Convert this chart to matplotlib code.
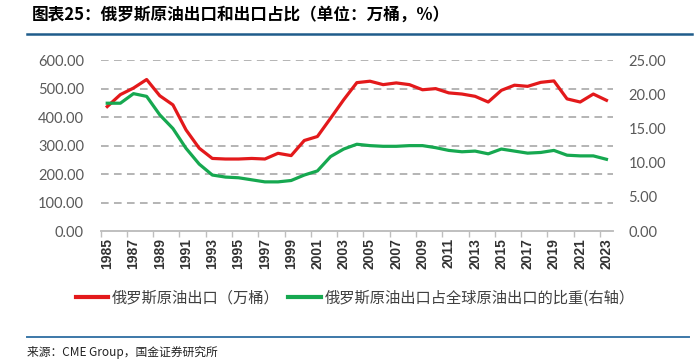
import numpy as np
import matplotlib
matplotlib.use("Agg")
import matplotlib.pyplot as plt
from matplotlib.lines import Line2D

plt.rcParams["font.family"] = ["Noto Sans CJK SC", "DejaVu Sans"]

# --------------------------------------------------------------------------- #
# Data
# --------------------------------------------------------------------------- #
years = list(range(1985, 2024))

# 俄罗斯原油出口（万桶）, left axis
exports = [437, 479, 502, 532, 475, 443, 355, 291, 255, 253,
           253, 255, 253, 273, 265, 318, 332, 396, 461, 521,
           526, 514, 520, 514, 496, 500, 485, 481, 473, 453,
           494, 512, 508, 522, 527, 464, 453, 481, 459]

# 俄罗斯原油出口占全球原油出口的比重, right axis (%)
share = [18.7, 18.7, 20.1, 19.7, 17.0, 15.0, 12.1, 9.8, 8.2, 7.9,
         7.8, 7.5, 7.2, 7.2, 7.4, 8.2, 8.8, 10.9, 12.0, 12.7,
         12.5, 12.4, 12.4, 12.5, 12.5, 12.2, 11.8, 11.6, 11.7, 11.3,
         12.0, 11.7, 11.4, 11.5, 11.8, 11.1, 11.0, 11.0, 10.5]

left_ticks = [0, 100, 200, 300, 400, 500, 600]
right_ticks = [0, 5, 10, 15, 20, 25]

TITLE = "图表25：俄罗斯原油出口和出口占比（单位：万桶，%）"
SOURCE = "来源：CME Group，国金证券研究所"
LABEL_RED = "俄罗斯原油出口（万桶）"
LABEL_GREEN = "俄罗斯原油出口占全球原油出口的比重(右轴）"

RED = "#E3191B"
GREEN = "#16A850"
TICK_GRAY = "#595959"

# --------------------------------------------------------------------------- #
# Figure
# --------------------------------------------------------------------------- #
fig = plt.figure(figsize=(6.99, 3.60), dpi=100)
ax = fig.add_axes([0.144, 0.358, 0.733, 0.475])
ax2 = ax.twinx()

x = np.arange(len(years))
ax.plot(x, exports, color=RED, lw=2.3, solid_joinstyle="round", zorder=3)
ax2.plot(x, share, color=GREEN, lw=2.3, solid_joinstyle="round", zorder=3)

ax.set_xlim(-0.5, len(years) - 0.5)
ax.set_ylim(0, 600)
ax2.set_ylim(0, 25)

# gridlines (dashed) from the left axis
for v in left_ticks[1:]:
    ax.axhline(v, color="#A0A0A0", lw=1.1, ls=(0, (5, 3.5)), zorder=1)

ax.set_yticks(left_ticks)
ax.set_yticklabels([f"{v:.2f}" for v in left_ticks])
ax2.set_yticks(right_ticks)
ax2.set_yticklabels([f"{v:.2f}" for v in right_ticks])

for a in (ax, ax2):
    for s in ("top", "left", "right"):
        a.spines[s].set_visible(False)
    a.spines["bottom"].set_color("#BFBFBF")
    a.spines["bottom"].set_linewidth(1.2)

ax.tick_params(axis="y", length=0, pad=12, labelcolor=TICK_GRAY)
ax2.tick_params(axis="y", length=0, pad=11, labelcolor=TICK_GRAY)
for lab in ax.get_yticklabels() + ax2.get_yticklabels():
    lab.set_fontfamily("Lato")
    lab.set_fontsize(10.5)

# category axis: labels every other year, tick marks between categories
ax.set_xticks(x[::2])
ax.set_xticklabels([str(y) for y in years[::2]], rotation=90)
ax.set_xticks(np.arange(-0.5, len(years) - 1, 2), minor=True)
ax.tick_params(axis="x", which="major", length=0, pad=5, labelcolor="#333333")
ax.tick_params(axis="x", which="minor", length=4, width=1, color="#BFBFBF")
for lab in ax.get_xticklabels():
    lab.set_fontfamily("Liberation Sans")
    lab.set_fontweight("bold")
    lab.set_fontsize(10)

# legend
handles = [Line2D([], [], color=RED, lw=3), Line2D([], [], color=GREEN, lw=3)]
fig.legend(handles, [LABEL_RED, LABEL_GREEN], loc="center",
           bbox_to_anchor=(0.508, 0.172), ncol=2, frameon=False,
           fontsize=11, handlelength=2.1, handletextpad=0.25,
           columnspacing=0.6, labelcolor="#404040")

# title, rules and source
fig.text(0.045, 0.958, TITLE, fontsize=12, fontweight="bold", style="italic",
         ha="left", va="center", color="black")
fig.add_artist(Line2D([0.039, 0.99], [0.905, 0.905], color="#1F5C8B", lw=1.8,
                      transform=fig.transFigure))
fig.add_artist(Line2D([0.039, 0.985], [0.064, 0.064], color="#3C78A8", lw=1.4,
                      transform=fig.transFigure))
fig.text(0.039, 0.022, SOURCE, fontsize=8.5, ha="left", va="center", color="#222222")

fig.savefig("out.png", dpi=100)
